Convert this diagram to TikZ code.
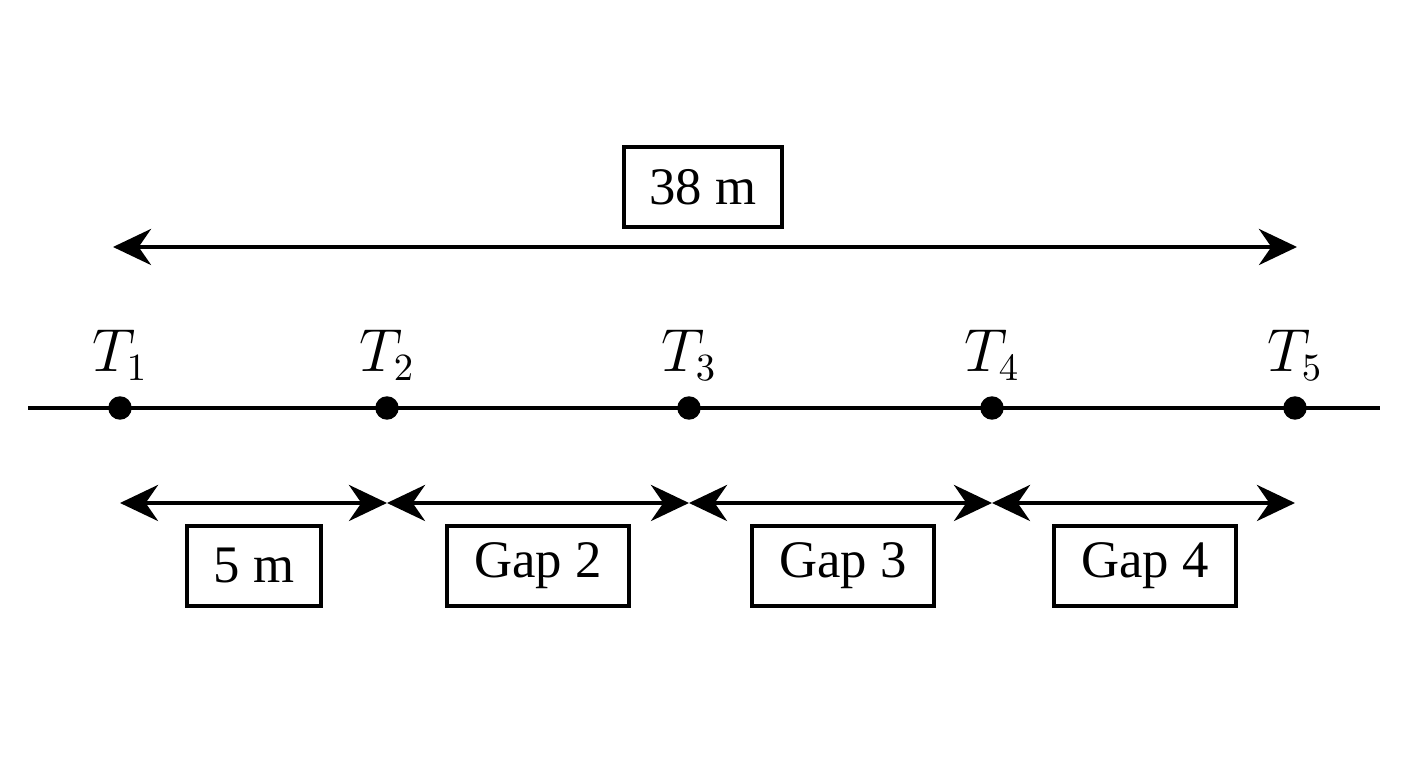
\documentclass[tikz,border=0pt]{standalone}
\usepackage{fontspec}
\setmainfont{Liberation Serif}
\usetikzlibrary{arrows.meta,positioning}
\tikzset{dot/.style={circle,fill=black,draw,minimum size=2.2mm,inner sep=0pt},
         dim/.style={{Stealth[length=3.8mm,width=3.6mm]}-{Stealth[length=3.8mm,width=3.6mm]},line width=1.2pt},
         box/.style={rectangle,draw,line width=0.9pt,minimum height=8mm,inner sep=1.5mm,font=\fontsize{15}{18}\selectfont},
         tlabel/.style={font=\fontsize{16}{19}\selectfont}
}
\begin{document}
\begin{tikzpicture}[x=0.01cm,y=-0.01cm]
\useasboundingbox (0,0) rectangle (1408,768);
\coordinate (left) at (28,408);
\coordinate (right) at (1380,408);
\draw[line width=1.2pt] (left) -- (right);
\foreach \n/\x in {1/120,2/387,3/689,4/992,5/1295}{
    \node[dot] (t\n) at (\x,408) {};
    \node[tlabel] at (\x,355) {$T_{\n}$};
    \coordinate (a\n) at (\x,503);
}
% overall length
\coordinate (top1) at (113,247);
\coordinate (top5) at (1297,247);
\draw[dim] (top1) -- (top5);
\node[box,minimum width=15.8mm] (total) at (703,187) {38 m};
% gaps
\draw[dim] (a1) -- (a2);
\draw[dim] (a2) -- (a3);
\draw[dim] (a3) -- (a4);
\draw[dim] (a4) -- (a5);
\node[box,minimum width=13.4mm] (g1) at (254,566) {5 m};
\node[box,minimum width=18.2mm] (g2) at (538,566) {Gap 2};
\node[box,minimum width=18.2mm] (g3) at (843,566) {Gap 3};
\node[box,minimum width=18.2mm] (g4) at (1145,566) {Gap 4};
\end{tikzpicture}
\end{document}
